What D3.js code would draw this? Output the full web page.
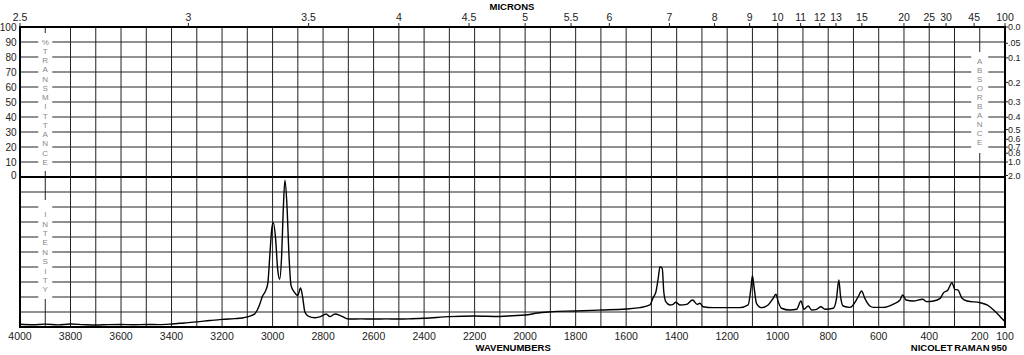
<!DOCTYPE html>
<html>
<head>
<meta charset="utf-8">
<script src="https://cdn.jsdelivr.net/npm/d3@7"></script>
<style>
  body { margin: 0; background: #fff; }
  text { font-family: "Liberation Sans", Arial, sans-serif; }
</style>
</head>
<body>
<div id="chart"></div>
<script>
// raman spectrum
var wavenumbers = [4000,3950,3900,3850,3800,3750,3700,3650,3600,3550,3500,3450,3400,3350,3300,3250,3200,3150,3120,3100,3085,3070,3060,3050,3040,3030,3019,3010,3003,2997,2988,2980,2972,2964,2958,2951,2943,2935,2927,2914,2900,2889,2881,2872,2859,2832,2810,2788,2773,2753,2727,2700,2650,2600,2550,2500,2450,2400,2300,2200,2100,2050,2000,1950,1900,1800,1700,1600,1545,1506,1493,1482,1473,1466,1457,1451,1443,1427,1414,1403,1388,1361,1337,1319,1308,1295,1255,1150,1117,1106,1100,1093,1084,1064,1038,1018,1007,998,985,952,925,908,896,879,866,846,829,813,780,767,758,751,741,714,681,668,655,635,621,582,542,516,505,492,463,426,410,383,357,343,326,310,299,287,270,250,198,171,145,119,100]
var intensity = [1.8,1.5,1.9,1.4,2.0,1.6,1.3,1.6,1.7,1.5,1.7,1.6,2.0,2.7,3.4,4.3,5.1,5.6,6.0,6.7,7.6,8.9,11.5,15.5,20.5,23.3,28.9,50,65.6,69.5,58.9,38.9,31.8,47.8,76.7,97.8,81,47.8,27.8,23.3,21.1,26,20,10,7.3,6.2,6.9,8.7,6.9,8.7,7.3,5.3,5.4,5.3,5.4,5.3,5.5,5.8,6.9,7.3,7.0,7.5,8.0,9.3,10.2,10.7,11.3,12.0,12.9,14.7,19.6,23.5,32.5,40.2,39,23.5,16.9,14.7,15.1,16.5,14.7,15.1,18,15.1,15.8,13.5,12.9,12.9,14.7,25.8,34.2,25.8,15.8,12.9,14.7,19.1,21.8,16.9,12.5,11.3,11.8,17.3,11.8,14,11.3,11.8,13.5,11.8,12.5,19.1,31.3,20.2,14,13.1,20.2,24,19.1,14,13.1,13.1,15.3,18,21.3,18,17.3,18.5,16.9,17.3,19.1,22.9,24.7,29.5,25.1,24.7,19.1,17.3,16.2,14.7,11.3,6.9,3.5]

var bottomTicks = [4000,3800,3600,3400,3200,3000,2800,2600,2400,2200,2000,1800,1600,1400,1200,1000,800,600,400,200,100]
var micronTicks = [2.5,3,3.5,4,4.5,5,5.5,6,7,8,9,10,11,12,13,15,20,25,30,45,100]
var transTicks = [0,10,20,30,40,50,60,70,80,90,100]
var absTicks = [0,0.05,0.1,0.2,0.3,0.4,0.5,0.6,0.7,0.8,1.0,2.0]
var absLabels = ["0.0",".05","0.1","0.2","0.3","0.4","0.5","0.6","0.7","0.8","1.0","2.0"]

var W = 1024, H = 355
// plot box (window.top is reserved, so p-prefixed names)
var pLeft = 20, pRight = 1005, pTop = 27, pMid = 177, pBottom = 327

var svg = d3.select("#chart").append("svg")
  .attr("width", W).attr("height", H)
svg.append("rect").attr("width", W).attr("height", H).attr("fill", "#fff")

var x = d3.scaleLinear().domain([4000, 100]).range([pLeft, pRight])
var yT = d3.scaleLinear().domain([0, 100]).range([pMid, pTop])      // % transmittance
var yI = d3.scaleLinear().domain([0, 100]).range([pBottom, pMid])   // intensity

var grid = svg.append("g").attr("stroke", "#222").attr("stroke-width", 1)

// columns holding the vertical titles break the grid
var xL = x(3900), xR = x(200)
function gapsFor(y){
  var g = []
  if (y > yT(95) && y < yT(5)) g.push([xL - 7, xL + 7])
  if (y > yI(85) && y < yI(15)) g.push([xL - 7, xL + 7])
  if (y > yT(85) && y < yT(15)) g.push([xR - 8.5, xR + 8.5])
  return g
}
function hline(y){
  var gaps = gapsFor(y), x0 = pLeft
  gaps.forEach(function(g){
    grid.append("line").attr("x1", x0).attr("x2", g[0]).attr("y1", y).attr("y2", y)
    x0 = g[1]
  })
  grid.append("line").attr("x1", x0).attr("x2", pRight).attr("y1", y).attr("y2", y)
}
d3.range(10, 100, 10).forEach(function(t){ hline(yT(t)) })
d3.range(10, 100, 10).forEach(function(t){ hline(yI(t)) })

// vertical lines every 100 cm-1
d3.range(200, 4000, 100).forEach(function(w){
  if (w == 3900 || w == 200) return
  grid.append("line").attr("x1", x(w)).attr("x2", x(w)).attr("y1", pTop).attr("y2", pBottom)
})
;[[pTop, pTop + 6], [pMid - 6, pMid + 23], [pBottom - 28, pBottom]].forEach(function(s){
  grid.append("line").attr("x1", xL).attr("x2", xL).attr("y1", s[0]).attr("y2", s[1])
})
;[[pTop, pTop + 25], [pMid - 24, pBottom]].forEach(function(s){
  grid.append("line").attr("x1", xR).attr("x2", xR).attr("y1", s[0]).attr("y2", s[1])
})

// heavy frame + zero line
var frame = svg.append("g").attr("stroke", "#000").attr("stroke-width", 2).attr("fill", "none")
frame.append("rect").attr("x", pLeft).attr("y", pTop).attr("width", pRight - pLeft).attr("height", pBottom - pTop)
frame.append("line").attr("x1", pLeft).attr("x2", pRight).attr("y1", pMid).attr("y2", pMid)

// vertical titles
function vtitle(str, xx, y0, y1, col){
  var chars = str.split("")
  var step = (y1 - y0) / (chars.length - 1)
  svg.selectAll(null).data(chars).enter().append("text")
    .text(function(d){ return d })
    .attr("x", xx).attr("y", function(d, i){ return y0 + i * step })
    .attr("dy", "0.35em").attr("text-anchor", "middle")
    .style("font-size", "8px").attr("fill", col)
}
vtitle("%TRANSMITTANCE", xL, yT(90), yT(10), "#888")
vtitle("INTENSITY", xL, yI(75), yI(25), "#888")
vtitle("ABSORBANCE", xR, yT(77), yT(23), "#888")

// left %T labels
svg.selectAll(".tl").data(transTicks).enter().append("text")
  .attr("class", "tl")
  .text(function(d){ return d })
  .attr("x", 16.5).attr("y", function(d){ return yT(d) - (d == 0 ? 2 : 0) })
  .attr("dy", "0.35em").attr("text-anchor", "end")
  .style("font-size", "10px").attr("fill", "#222")

// right absorbance labels
var ab = svg.selectAll(".ab").data(absTicks).enter().append("g")
  .attr("transform", function(d){ return "translate(" + pRight + "," + yT(100 * Math.pow(10, -d)) + ")" })
ab.append("line").attr("x1", 0).attr("x2", 3).attr("stroke", "#222")
ab.append("text").text(function(d, i){ return absLabels[i] })
  .attr("x", 3).attr("dy", "0.35em")
  .style("font-size", "9px").attr("fill", "#222")

// microns on top
var mt = svg.selectAll(".mt").data(micronTicks).enter().append("g")
  .attr("transform", function(d){ return "translate(" + x(1e4 / d) + "," + pTop + ")" })
mt.append("line").attr("y1", -4).attr("y2", 0).attr("stroke", "#222")
mt.append("text").text(function(d){ return d })
  .attr("y", -6).attr("text-anchor", "middle")
  .style("font-size", "10.5px").attr("fill", "#222")
svg.append("text").text("MICRONS").attr("x", 512).attr("y", 9.5)
  .attr("text-anchor", "middle").style("font-size", "9.5px").style("font-weight", "bold")

// wavenumbers on bottom
svg.selectAll(".bt").data(bottomTicks).enter().append("text")
  .text(function(d){ return d })
  .attr("x", function(d){ return x(d) }).attr("y", 340)
  .attr("text-anchor", "middle")
  .style("font-size", "10.5px").attr("fill", "#222")
svg.append("text").text("WAVENUMBERS").attr("x", x(2000) - 12).attr("y", 350.5)
  .attr("text-anchor", "middle").style("font-size", "9.5px").style("font-weight", "bold")
svg.append("text").text("NICOLET RAMAN 950").attr("x", 1007).attr("y", 350.5)
  .attr("text-anchor", "end").style("font-size", "9.5px").style("font-weight", "bold")
  .style("word-spacing", "-1px")

// the spectrum
var pts = wavenumbers.map(function(w, i){ return [w, intensity[i]] })
var line = d3.line()
  .x(function(d){ return x(d[0]) })
  .y(function(d){ return yI(d[1]) })
  .curve(d3.curveMonotoneX)
svg.append("path").datum(pts)
  .attr("d", line)
  .attr("fill", "none").attr("stroke", "#000").attr("stroke-width", 1.4)
</script>
</body>
</html>
